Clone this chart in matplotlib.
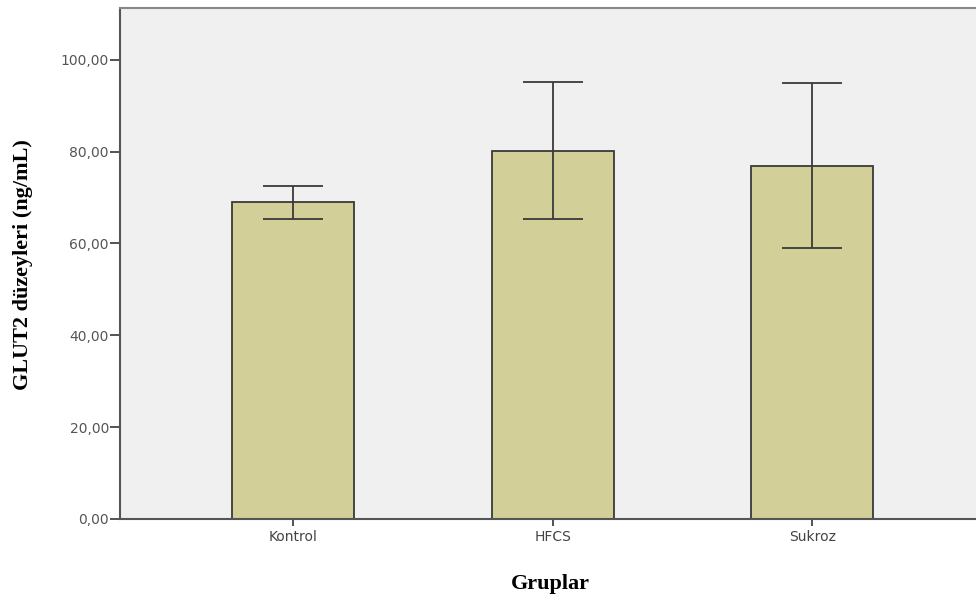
import numpy as np
import matplotlib
matplotlib.use("Agg")
import matplotlib.pyplot as plt
from matplotlib.ticker import FuncFormatter

# Data
groups = ["Kontrol", "HFCS", "Sukroz"]
means = [69.0, 80.2, 76.9]
err_low = [65.4, 65.4, 59.0]
err_high = [72.5, 95.2, 95.0]

yerr = np.array([np.subtract(means, err_low), np.subtract(err_high, means)])
x = np.arange(len(groups))

fig = plt.figure(figsize=(9.76, 5.95), dpi=100)
ax = fig.add_axes([0.123, 0.128, 0.877, 0.8586])
ax.set_facecolor("#f0f0f0")

ax.bar(x, means, width=0.47, color="#d3cf98", edgecolor="#3a3a3a", linewidth=1.3, zorder=2)
ax.errorbar(x, means, yerr=yerr, fmt="none", ecolor="#3a3a3a", elinewidth=1.3,
            capsize=21.6, capthick=1.3, zorder=3)

ax.set_xlim(-0.665, 2.63)
ax.set_ylim(0, 111.3)
ax.set_xticks(x)
ax.set_xticklabels(groups)
ax.set_yticks(np.arange(0, 101, 20))
ax.yaxis.set_major_formatter(FuncFormatter(lambda v, p: f"{v:.2f}".replace(".", ",")))

ax.tick_params(axis="y", length=7.5, width=1.3, color="#444444", labelsize=10,
               labelcolor="#555555", pad=0.5)
ax.tick_params(axis="x", length=5, width=1.3, color="#444444", labelsize=10,
               labelcolor="#444444", pad=3)
for lbl in ax.get_xticklabels() + ax.get_yticklabels():
    lbl.set_family("DejaVu Sans")

ax.spines["left"].set_color("#555555")
ax.spines["left"].set_linewidth(1.5)
ax.spines["bottom"].set_color("#555555")
ax.spines["bottom"].set_linewidth(1.5)
ax.spines["top"].set_color("#888888")
ax.spines["top"].set_linewidth(1.5)
ax.spines["right"].set_visible(False)

fig.text(0.0236, 0.5546, "GLUT2 düzeyleri (ng/mL)", rotation=90, ha="center", va="center",
         family="Liberation Serif", fontweight="bold", fontsize=16)
fig.text(0.5635, 0.0185, "Gruplar", ha="center", va="center",
         family="Liberation Serif", fontweight="bold", fontsize=16)

fig.savefig("out.png", dpi=100)
